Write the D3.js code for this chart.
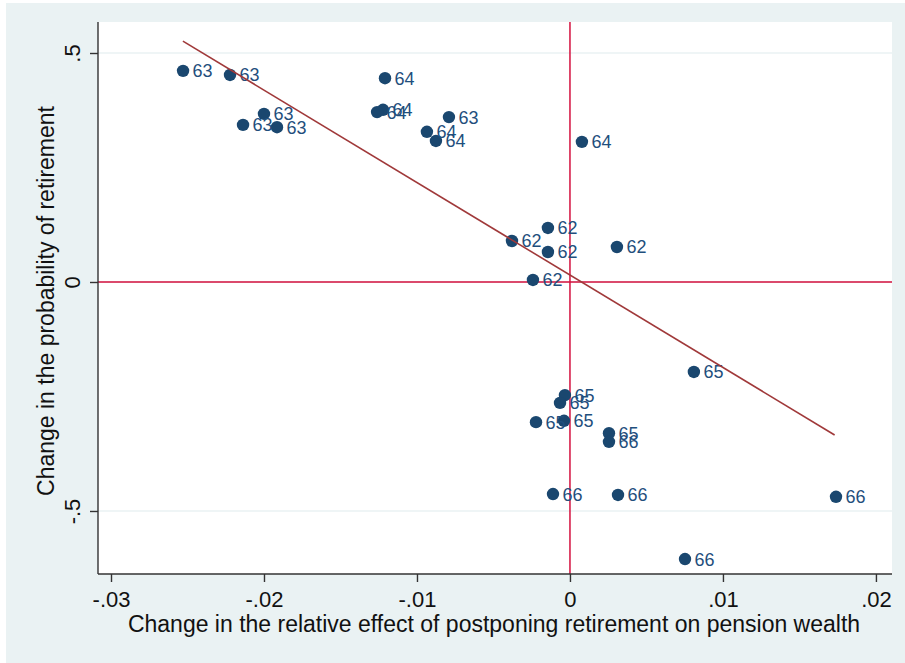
<!DOCTYPE html>
<html>
<head>
<meta charset="utf-8">
<script src="https://cdn.jsdelivr.net/npm/d3@7/dist/d3.min.js"></script>
<style>
  html, body { margin: 0; padding: 0; background: #ffffff; }
  svg { display: block; }
  text { font-family: Arial, "Liberation Sans", sans-serif; }
</style>
</head>
<body>
<svg id="chart" width="905" height="663"></svg>
<script>
// Change in relative pension-wealth effect (x) vs change in retirement probability (y)
const xValues = [
  -0.02529, -0.02222, -0.02000, -0.02137, -0.01915, -0.00791,
  -0.01209, -0.01222, -0.01261, -0.00935, -0.00876, 0.00078,
  -0.00144, -0.00379, -0.00144, 0.00307, -0.00242,
  0.00810, -0.00033, -0.00065, -0.00222, -0.00039, 0.00255,
  0.00255, -0.00111, 0.00314, 0.01739, 0.00752
];
const yValues = [
  0.461, 0.452, 0.367, 0.343, 0.338, 0.360,
  0.445, 0.376, 0.371, 0.328, 0.308, 0.306,
  0.118, 0.0895, 0.0655, 0.0764, 0.0044,
  -0.1965, -0.247, -0.264, -0.306, -0.303, -0.330,
  -0.349, -0.463, -0.465, -0.469, -0.605
];
const ageLabels = [
  "63", "63", "63", "63", "63", "63",
  "64", "64", "64", "64", "64", "64",
  "62", "62", "62", "62", "62",
  "65", "65", "65", "65", "65", "65",
  "66", "66", "66", "66", "66"
];

// Fitted line end points
const fitX = [-0.0253, 0.0173];
const fitY = [0.526, -0.334];

const xTicks = [-0.03, -0.02, -0.01, 0, 0.01, 0.02];
const xTickLabels = ["-.03", "-.02", "-.01", "0", ".01", ".02"];
const yTicks = [-0.5, 0, 0.5];
const yTickLabels = ["-.5", "0", ".5"];

const xTitle = "Change in the relative effect of postponing retirement on pension wealth";
const yTitle = "Change in the probability of retirement";

const W = 905, H = 663;
const plot = { left: 98, right: 892, top: 22, bottom: 574 };

const svg = d3.select("#chart");

// graph region background
svg.append("rect")
  .attr("x", 6).attr("y", 3)
  .attr("width", W - 6).attr("height", H - 3)
  .attr("fill", "#eaf2f3");

// plot region
svg.append("rect")
  .attr("x", plot.left).attr("y", plot.top)
  .attr("width", plot.right - plot.left).attr("height", plot.bottom - plot.top)
  .attr("fill", "#ffffff");

const x = d3.scaleLinear()
  .domain([-0.03085, 0.02105])
  .range([plot.left, plot.right]);
const y = d3.scaleLinear()
  .domain([-0.6376, 0.5677])
  .range([plot.bottom, plot.top]);

// horizontal grid lines
svg.append("g").selectAll("line")
  .data(yTicks)
  .join("line")
  .attr("x1", plot.left).attr("x2", plot.right)
  .attr("y1", d => y(d)).attr("y2", d => y(d))
  .attr("stroke", "#eaf2f3")
  .attr("stroke-width", 1.6);

// reference lines at zero
svg.append("line")
  .attr("x1", x(0)).attr("x2", x(0))
  .attr("y1", plot.top).attr("y2", plot.bottom)
  .attr("stroke", "#d4103e").attr("stroke-width", 1.5);
svg.append("line")
  .attr("x1", plot.left).attr("x2", plot.right)
  .attr("y1", y(0)).attr("y2", y(0))
  .attr("stroke", "#d4103e").attr("stroke-width", 1.5);

// markers with age labels
const pts = xValues.map((v, i) => ({ x: v, y: yValues[i], label: ageLabels[i] }));

svg.append("g").selectAll("circle")
  .data(pts)
  .join("circle")
  .attr("cx", d => x(d.x))
  .attr("cy", d => y(d.y))
  .attr("r", 6.2)
  .attr("fill", "#1a476f");

svg.append("g").selectAll("text")
  .data(pts)
  .join("text")
  .attr("x", d => x(d.x) + 9.5)
  .attr("y", d => y(d.y))
  .attr("dy", "0.36em")
  .attr("font-size", 18)
  .attr("fill", "#1f4f7d")
  .text(d => d.label);

// fitted line
svg.append("path")
  .datum(fitX.map((v, i) => [v, fitY[i]]))
  .attr("d", d3.line().x(d => x(d[0])).y(d => y(d[1])))
  .attr("fill", "none")
  .attr("stroke", "#a0393a")
  .attr("stroke-width", 1.6);

// x axis
const xAxis = d3.axisBottom(x)
  .tickValues(xTicks)
  .tickFormat((d, i) => xTickLabels[i])
  .tickSize(8)
  .tickPadding(9)
  .tickSizeOuter(0);
const gx = svg.append("g")
  .attr("transform", `translate(0,${plot.bottom})`)
  .call(xAxis);
gx.select(".domain")
  .attr("d", `M${plot.left},0H${plot.right}`)
  .attr("stroke", "#333333").attr("stroke-width", 1.4);
gx.selectAll(".tick line").attr("stroke", "#333333").attr("stroke-width", 1.4);
gx.selectAll(".tick text")
  .attr("font-size", 22)
  .attr("font-family", "Arial, 'Liberation Sans', sans-serif")
  .attr("fill", "#111111");

// y axis
const yAxis = d3.axisLeft(y)
  .tickValues(yTicks)
  .tickFormat((d, i) => yTickLabels[i])
  .tickSize(8)
  .tickPadding(0)
  .tickSizeOuter(0);
const gy = svg.append("g")
  .attr("transform", `translate(${plot.left},0)`)
  .call(yAxis);
gy.select(".domain")
  .attr("d", `M0,${plot.top}V${plot.bottom}`)
  .attr("stroke", "#333333").attr("stroke-width", 1.4);
gy.selectAll(".tick line").attr("stroke", "#333333").attr("stroke-width", 1.4);
gy.selectAll(".tick text")
  .attr("x", null).attr("dy", null)
  .attr("text-anchor", "middle")
  .attr("transform", "translate(-18,0) rotate(-90)")
  .attr("font-size", 22)
  .attr("font-family", "Arial, 'Liberation Sans', sans-serif")
  .attr("fill", "#111111");

// axis titles
svg.append("text")
  .attr("x", (plot.left + plot.right) / 2 - 1)
  .attr("y", 632)
  .attr("text-anchor", "middle")
  .attr("font-size", 23)
  .attr("fill", "#111111")
  .text(xTitle);

svg.append("text")
  .attr("transform", `translate(54,${(plot.top + plot.bottom) / 2 + 3}) rotate(-90)`)
  .attr("text-anchor", "middle")
  .attr("font-size", 23)
  .attr("fill", "#111111")
  .text(yTitle);
</script>
</body>
</html>
